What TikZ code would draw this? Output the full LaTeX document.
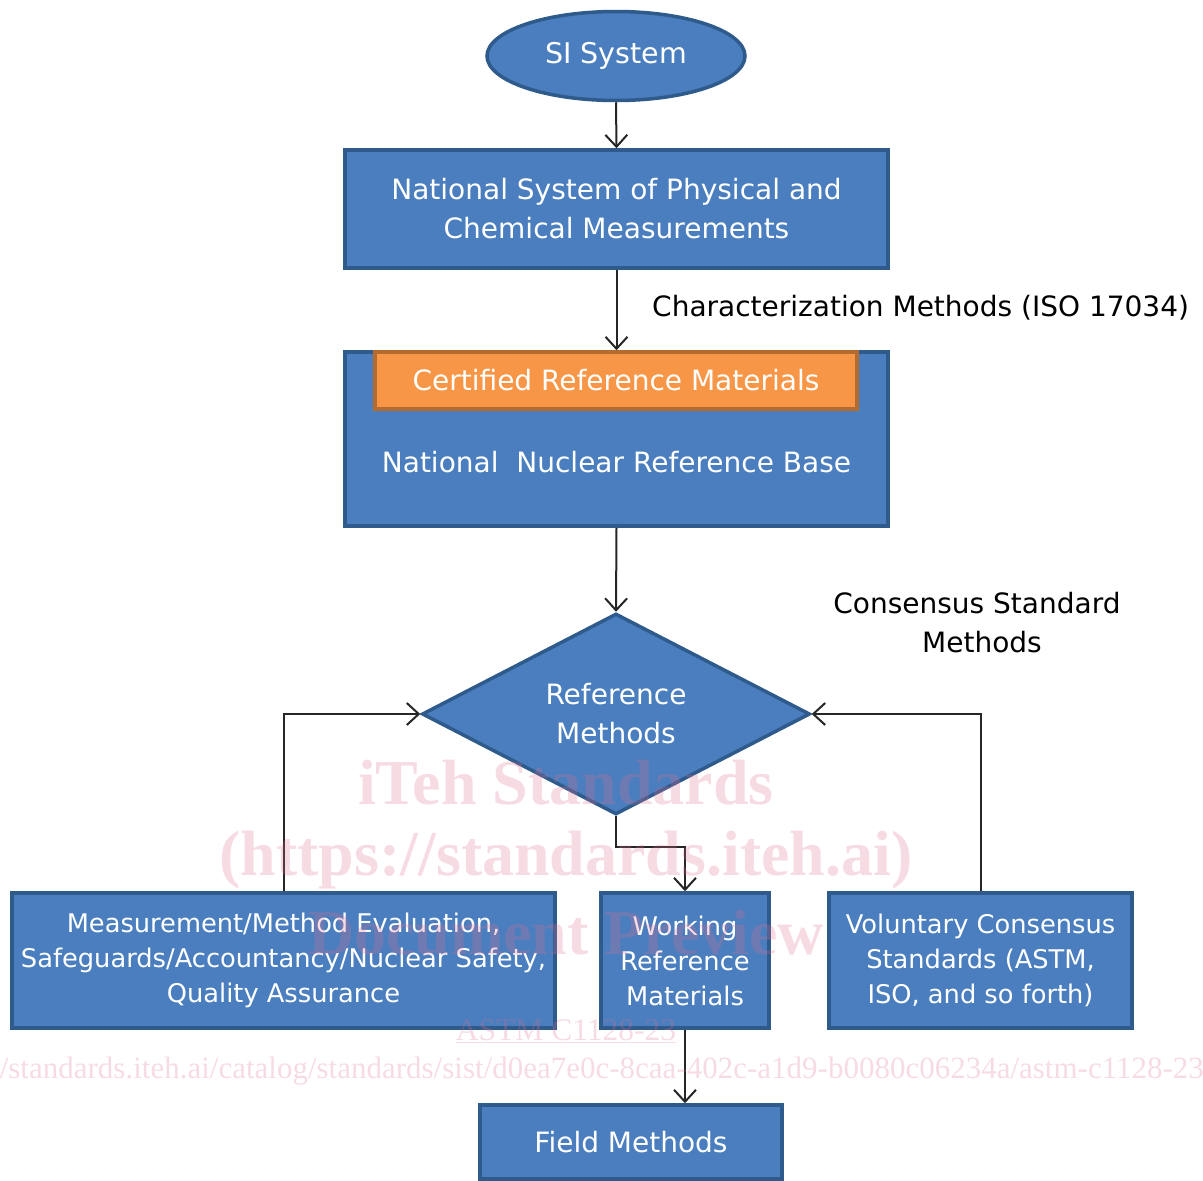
\documentclass[tikz,border=0pt]{standalone}
\usepackage{fontspec}
\setmainfont{DejaVu Sans}
\newfontfamily\wmfont{Liberation Serif}
\usetikzlibrary{shapes.geometric,arrows.meta}
\definecolor{bfill}{HTML}{4A7EBE}
\definecolor{bdr}{HTML}{2F5A8C}
\definecolor{ofill}{HTML}{F79646}
\definecolor{obdr}{HTML}{B56A2E}
\definecolor{wm}{HTML}{E07090}
\tikzset{
  txt/.style={font=\fontsize{28}{39}\selectfont},
  smalltxt/.style={font=\fontsize{25.7}{35}\selectfont},
  bluebox/.style={rectangle, draw=bdr, fill=bfill, line width=3.5pt, inner sep=0pt, text=white, align=center, txt},
  orangebox/.style={rectangle, draw=obdr, fill=ofill, line width=3.5pt, inner sep=0pt, text=white, align=center, txt},
  arr/.style={line width=2pt, draw=black!85, -{Straight Barb[length=12pt,width=22pt,line width=2pt]}},
  lbl/.style={txt, text=black, align=center, inner sep=0pt},
  wmtxt/.style={text=wm, text opacity=0.25, inner sep=0pt}
}
\begin{document}
\begin{tikzpicture}[x=1pt,y=-1pt]
\useasboundingbox (0,0) rectangle (1203,1181);
\node[bluebox, ellipse, minimum width=258pt, minimum height=89pt, font=\fontsize{28.5}{38}\selectfont] (si) at (616,56) {SI System};
\node[bluebox, minimum width=543pt, minimum height=118pt] (b1) at (616.5,209) {National System of Physical and\\Chemical Measurements};
\node[bluebox, minimum width=543pt, minimum height=174pt] (b2) at (616.5,439) {};
\node[orangebox, minimum width=482pt, minimum height=57pt] (crm) at (616,380.5) {Certified Reference Materials};
\node[txt, text=white, inner sep=0pt] (nnrb) at (616.5,462) {National\ \ Nuclear Reference Base};
\node[bluebox, diamond, aspect=1.93, minimum width=388pt, minimum height=201pt] (rm) at (616,714) {Reference\\Methods};
\node[bluebox, smalltxt, minimum width=543pt, minimum height=135pt] (mme) at (283.5,960.5) {Measurement/Method Evaluation,\\Safeguards/Accountancy/Nuclear Safety,\\Quality Assurance};
\node[bluebox, smalltxt, minimum width=168pt, minimum height=135pt] (wrm) at (685,960.5) {Working\\Reference\\Materials};
\node[bluebox, smalltxt, minimum width=303pt, minimum height=135pt] (vcs) at (980.5,960.5) {Voluntary Consensus\\Standards (ASTM,\\ISO, and so forth)};
\node[bluebox, minimum width=302pt, minimum height=74pt] (fm) at (631,1142) {Field Methods};
\node[lbl, anchor=west] (cm) at (652,308) {Characterization Methods (ISO 17034)};
\node[lbl] (csm) at (977,623) {Consensus Standard\\\hspace*{10pt}Methods};
\draw[arr] (si.south) -- (b1.north);
\draw[arr] (b1.south) -- (b2.north);
\draw[arr] (b2.south) -- (rm.north);
\draw[arr] (mme.north) |- (rm.west);
\draw[arr] (vcs.north) |- (rm.east);
\draw[arr] (rm.south) -- ++(0,31) -| (wrm.north);
\draw[arr] (wrm.south) -- (wrm.south |- fm.north);
\node[wmtxt, font=\wmfont\bfseries\fontsize{64}{64}\selectfont] (wm1) at (566,783) {iTeh Standards};
\node[wmtxt, font=\wmfont\bfseries\fontsize{64}{64}\selectfont] (wm2) at (566,860) {(https://standards.iteh.ai)};
\node[wmtxt, font=\wmfont\bfseries\fontsize{64}{64}\selectfont] (wm3) at (566,933) {Document Preview};
\node[wmtxt, font=\wmfont\fontsize{31.5}{31.5}\selectfont] (wm4) at (566,1031) {\underline{ASTM C1128-23}};
\node[wmtxt, font=\wmfont\fontsize{31}{31}\selectfont, anchor=east] (wm5) at (1204,1071) {https://standards.iteh.ai/catalog/standards/sist/d0ea7e0c-8caa-402c-a1d9-b0080c06234a/astm-c1128-23};
\end{tikzpicture}
\end{document}
